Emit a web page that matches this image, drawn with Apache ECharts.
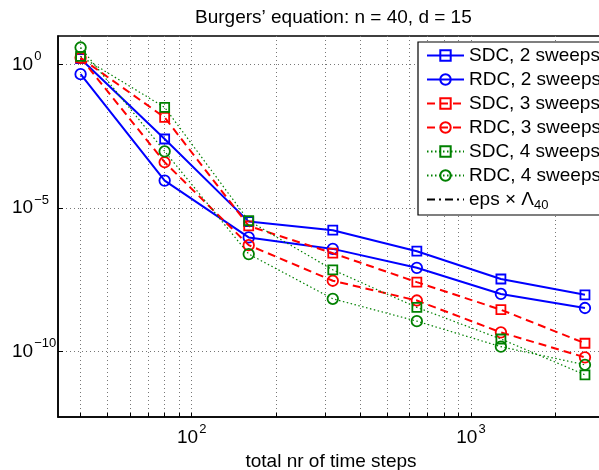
<!DOCTYPE html>
<html><head><meta charset="utf-8">
<script src="https://cdn.jsdelivr.net/npm/echarts@6/dist/echarts.min.js"></script>
<style>html,body{margin:0;padding:0;background:#fff}#c{width:599px;height:470px}</style>
</head><body><div id="c"></div>
<script>
// ---- data ----
const steps = [40, 80, 160, 320, 640, 1280, 2560];
const sdc2 = [1.62, 2.57e-3, 3.39e-6, 1.70e-6, 3.16e-7, 3.39e-8, 9.55e-9];
const rdc2 = [0.468, 9.12e-5, 9.55e-7, 3.80e-7, 8.32e-8, 1.02e-8, 3.31e-9];
const sdc3 = [1.74, 1.45e-2, 2.40e-6, 2.69e-7, 2.63e-8, 2.88e-9, 1.95e-10];
const rdc3 = [1.74, 3.98e-4, 5.13e-7, 2.95e-8, 6.03e-9, 4.68e-10, 6.31e-11];
const sdc4 = [1.95, 3.24e-2, 3.63e-6, 7.08e-8, 3.47e-9, 2.75e-10, 1.55e-11];
const rdc4 = [3.98, 9.55e-4, 2.51e-7, 6.92e-9, 1.15e-9, 1.48e-10, 3.47e-11];
const epsLevel = 1.2e-12;
const seriesNames = ['SDC, 2 sweeps', 'RDC, 2 sweeps', 'SDC, 3 sweeps', 'RDC, 3 sweeps', 'SDC, 4 sweeps', 'RDC, 4 sweeps'];
const epsName = 'eps × Λ40';
const xTickValues = [40, 50, 60, 70, 80, 90, 100, 200, 300, 400, 500, 600, 700, 800, 900, 1000, 2000];
const xLabelValues = [100, 1000];
const yTickValues = [1, 1e-5, 1e-10];
const titleText = 'Burgers’ equation: n = 40, d = 15';
const xAxisTitle = 'total nr of time steps';

// ---- styles ----
const FONT = 'Liberation Sans, Arial, Helvetica, sans-serif';
const FS = 19;
const BLUE = '#0000ff', RED = '#ff0000', GREEN = '#008000';
const styles = [
  {c: BLUE, sym: 'rect', size: 9, type: 'solid', w: 2},
  {c: BLUE, sym: 'circle', size: 10.5, type: 'solid', w: 2},
  {c: RED, sym: 'rect', size: 9, type: [8, 5], w: 2},
  {c: RED, sym: 'circle', size: 10.5, type: [8, 5], w: 2},
  {c: GREEN, sym: 'rect', size: 9, type: [1.5, 2.5], w: 1.2},
  {c: GREEN, sym: 'circle', size: 10.5, type: [1.5, 2.5], w: 1.2}
];
const allVals = [sdc2, rdc2, sdc3, rdc3, sdc4, rdc4];

function supLabel(v) {
  const e = Math.round(Math.log10(v));
  return '{b|10}{s|' + (e < 0 ? '\u2212' + (-e) : e) + '}';
}
const supRich = {
  b: {fontSize: FS, fontFamily: FONT, color: '#000'},
  s: {fontSize: 13, fontFamily: FONT, color: '#000', padding: [0, 0, 16, 1]}
};

const series = allVals.map((vals, i) => ({
  name: seriesNames[i], type: 'line',
  data: steps.map((x, j) => [x, vals[j]]),
  symbol: styles[i].sym, symbolSize: styles[i].size,
  lineStyle: {color: styles[i].c, width: styles[i].w, type: styles[i].type},
  itemStyle: {color: 'rgba(0,0,0,0)', borderColor: styles[i].c, borderWidth: 1.8},
  emphasis: {disabled: true}, animation: false, z: 3 + i
}));
series.push({
  name: epsName, type: 'line', data: [], symbol: 'none',
  lineStyle: {color: '#000', width: 2, type: [8, 4, 2, 4]},
  itemStyle: {color: '#000'},
  markLine: {silent: true, symbol: 'none', animation: false, label: {show: false},
    lineStyle: {color: '#000', width: 2, type: [8, 4, 2, 4]},
    data: [{yAxis: epsLevel}]},
  animation: false, z: 10
});

const legendData = seriesNames.map(n => ({name: n}));
legendData.push({name: epsName, itemStyle: {opacity: 0}});

const chart = echarts.init(document.getElementById('c'), null, {renderer: 'canvas'});
chart.setOption({
  backgroundColor: '#fff',
  animation: false,
  title: {text: titleText, left: 190, top: 3,
    textStyle: {fontFamily: FONT, fontSize: FS, fontWeight: 'normal', color: '#000'}},
  grid: {left: 58, top: 36, width: 546, height: 381, show: true, borderColor: '#000', borderWidth: 1.5,
    containLabel: false, outerBoundsMode: 'none'},
  legend: {
    orient: 'vertical', left: 418, top: 42,
    itemWidth: 37, itemHeight: 13, itemGap: 5,
    padding: [4, 8, 3, 8],
    backgroundColor: '#fff', borderColor: '#000', borderWidth: 1.2, borderRadius: 0,
    data: legendData,
    formatter: n => n === epsName ? '{t|eps × Λ}{sub|40}' : n,
    textStyle: {fontFamily: FONT, fontSize: FS, color: '#000',
      rich: {t: {fontFamily: FONT, fontSize: FS, color: '#000'},
             sub: {fontFamily: FONT, fontSize: 13, color: '#000', padding: [12, 0, 0, 0]}}},
    selectedMode: false
  },
  xAxis: {
    type: 'log', logBase: 10, min: 33.2, max: 2995,
    name: xAxisTitle, nameLocation: 'middle', nameGap: 33,
    nameTextStyle: {fontFamily: FONT, fontSize: FS, color: '#000'},
    axisLine: {show: true, lineStyle: {color: '#000', width: 1.5}},
    axisTick: {show: true, inside: true, length: 4, customValues: xTickValues, lineStyle: {color: '#000', width: 1}},
    axisLabel: {show: true, customValues: xLabelValues, formatter: supLabel, rich: supRich, margin: 6, color: '#000'},
    splitLine: {show: true, lineStyle: {color: '#777', width: 1, type: [1, 3]}},
    minorTick: {show: false}, minorSplitLine: {show: false}
  },
  yAxis: {
    type: 'log', logBase: 10, min: Math.pow(10, -12.28), max: 10,
    axisLine: {show: true, lineStyle: {color: '#000', width: 1.5}},
    axisTick: {show: true, inside: true, length: 5, customValues: yTickValues, lineStyle: {color: '#000', width: 1}},
    axisLabel: {show: true, customValues: yTickValues, formatter: supLabel, rich: supRich, align: 'left', margin: 46, color: '#000'},
    splitLine: {show: true, lineStyle: {color: '#777', width: 1, type: [1, 3]}},
    minorTick: {show: false}, minorSplitLine: {show: false}
  },
  series: series
});
</script>
</body></html>
